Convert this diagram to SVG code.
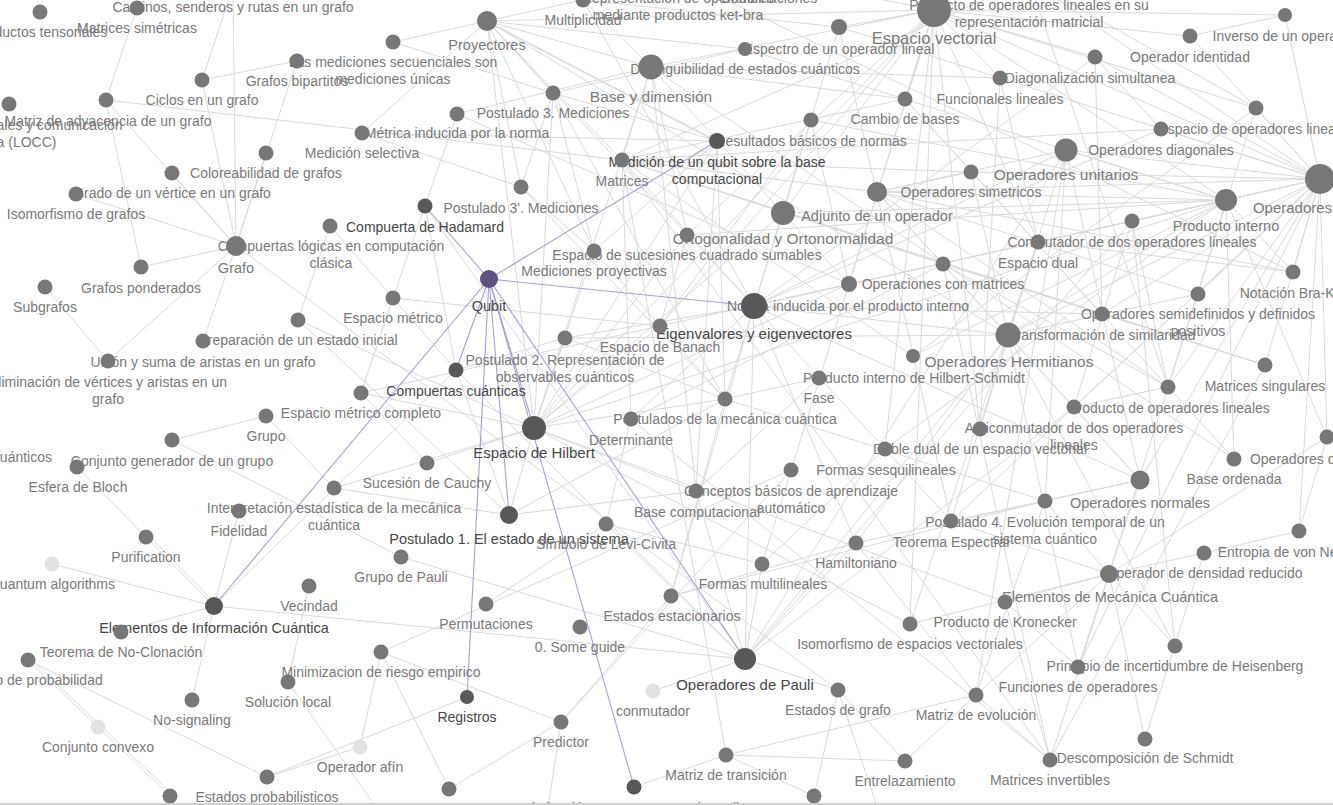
<svg xmlns="http://www.w3.org/2000/svg" width="1333" height="805" viewBox="0 0 1333 805">
<style>
text{font-family:"Liberation Sans",Arial,sans-serif;font-size:14px;fill:#7a7a7a;text-anchor:middle}
.n>circle{fill:#777}
.d>circle{fill:#585858}
.d>text{fill:#474747}
.q>circle{fill:#5e5183}
.q>text{fill:#4a4a4a}
.l>circle{fill:#e2e2e2}
.m>text{font-size:14.5px}
.f>text{font-size:15px}
.L>text{font-size:15.5px}
.X>text{font-size:16.5px}
.e line{stroke:#dadada;stroke-width:1}
.p line{stroke:#a7a0d8;stroke-width:1.1}
</style>
<rect width="1333" height="805" fill="#fff"/>
<g id="connectors">
<g class="e">
<line x1="137" y1="8" x2="106" y2="100"/>
<line x1="106" y1="100" x2="236" y2="246"/>
<line x1="106" y1="100" x2="141" y2="267"/>
<line x1="106" y1="100" x2="622" y2="160"/>
<line x1="202" y1="80" x2="297" y2="61"/>
<line x1="202" y1="80" x2="233" y2="-13"/>
<line x1="202" y1="80" x2="236" y2="246"/>
<line x1="233" y1="-13" x2="236" y2="246"/>
<line x1="297" y1="61" x2="236" y2="246"/>
<line x1="266" y1="153" x2="236" y2="246"/>
<line x1="172" y1="173" x2="236" y2="246"/>
<line x1="76" y1="194" x2="236" y2="246"/>
<line x1="141" y1="267" x2="236" y2="246"/>
<line x1="330" y1="226" x2="298" y2="320"/>
<line x1="236" y1="246" x2="203" y2="341"/>
<line x1="236" y1="246" x2="108" y2="361"/>
<line x1="45" y1="287" x2="108" y2="361"/>
<line x1="236" y1="246" x2="838" y2="690"/>
<line x1="298" y1="320" x2="534" y2="428"/>
<line x1="298" y1="320" x2="509" y2="515"/>
<line x1="266" y1="416" x2="172" y2="440"/>
<line x1="266" y1="416" x2="334" y2="488"/>
<line x1="172" y1="440" x2="401" y2="557"/>
<line x1="77" y1="467" x2="146" y2="537"/>
<line x1="146" y1="537" x2="214" y2="606"/>
<line x1="148" y1="535" x2="216" y2="604"/>
<line x1="52" y1="564" x2="214" y2="606"/>
<line x1="214" y1="606" x2="121" y2="632"/>
<line x1="214" y1="606" x2="192" y2="700"/>
<line x1="214" y1="606" x2="239" y2="511"/>
<line x1="214" y1="606" x2="745" y2="659"/>
<line x1="214" y1="606" x2="456" y2="370"/>
<line x1="309" y1="586" x2="288" y2="682"/>
<line x1="28" y1="660" x2="170" y2="796"/>
<line x1="30" y1="658" x2="172" y2="794"/>
<line x1="28" y1="660" x2="267" y2="777"/>
<line x1="267" y1="777" x2="467" y2="697"/>
<line x1="381" y1="652" x2="561" y2="722"/>
<line x1="381" y1="652" x2="360" y2="747"/>
<line x1="381" y1="652" x2="449" y2="789"/>
<line x1="449" y1="789" x2="561" y2="722"/>
<line x1="561" y1="722" x2="671" y2="596"/>
<line x1="360" y1="747" x2="267" y2="777"/>
<line x1="401" y1="557" x2="745" y2="659"/>
<line x1="486" y1="604" x2="606" y2="524"/>
<line x1="634" y1="787" x2="726" y2="755"/>
<line x1="362" y1="133" x2="487" y2="21"/>
<line x1="362" y1="133" x2="521" y2="187"/>
<line x1="362" y1="133" x2="717" y2="141"/>
<line x1="457" y1="114" x2="393" y2="298"/>
<line x1="457" y1="114" x2="651" y2="67"/>
<line x1="457" y1="114" x2="849" y2="284"/>
<line x1="330" y1="226" x2="456" y2="370"/>
<line x1="393" y1="298" x2="361" y2="393"/>
<line x1="361" y1="393" x2="427" y2="463"/>
<line x1="361" y1="393" x2="660" y2="326"/>
<line x1="427" y1="463" x2="534" y2="428"/>
<line x1="393" y1="298" x2="660" y2="326"/>
<line x1="334" y1="488" x2="509" y2="515"/>
<line x1="334" y1="488" x2="534" y2="428"/>
<line x1="288" y1="682" x2="385" y2="820"/>
<line x1="561" y1="722" x2="547" y2="815"/>
<line x1="838" y1="690" x2="880" y2="815"/>
<line x1="726" y1="755" x2="976" y2="695"/>
<line x1="726" y1="755" x2="814" y2="796"/>
<line x1="726" y1="755" x2="905" y2="761"/>
<line x1="905" y1="761" x2="976" y2="695"/>
<line x1="838" y1="690" x2="814" y2="796"/>
<line x1="745" y1="659" x2="653" y2="691"/>
<line x1="726" y1="755" x2="622" y2="160"/>
<line x1="487" y1="21" x2="553" y2="93"/>
<line x1="487" y1="21" x2="521" y2="187"/>
<line x1="487" y1="21" x2="594" y2="251"/>
<line x1="487" y1="21" x2="717" y2="141"/>
<line x1="489" y1="23" x2="719" y2="143"/>
<line x1="487" y1="21" x2="934" y2="10"/>
<line x1="487" y1="21" x2="754" y2="306"/>
<line x1="487" y1="21" x2="1008" y2="335"/>
<line x1="487" y1="21" x2="651" y2="67"/>
<line x1="487" y1="21" x2="745" y2="49"/>
<line x1="487" y1="21" x2="393" y2="42"/>
<line x1="487" y1="21" x2="583" y2="0"/>
<line x1="487" y1="21" x2="622" y2="160"/>
<line x1="487" y1="21" x2="534" y2="428"/>
<line x1="553" y1="93" x2="521" y2="187"/>
<line x1="553" y1="93" x2="594" y2="251"/>
<line x1="553" y1="93" x2="725" y2="399"/>
<line x1="553" y1="93" x2="393" y2="42"/>
<line x1="553" y1="93" x2="534" y2="428"/>
<line x1="553" y1="93" x2="717" y2="141"/>
<line x1="521" y1="187" x2="594" y2="251"/>
<line x1="521" y1="187" x2="725" y2="399"/>
<line x1="425" y1="206" x2="456" y2="370"/>
<line x1="425" y1="206" x2="745" y2="659"/>
<line x1="717" y1="141" x2="696" y2="491"/>
<line x1="717" y1="141" x2="725" y2="399"/>
<line x1="717" y1="141" x2="594" y2="251"/>
<line x1="594" y1="251" x2="534" y2="428"/>
<line x1="594" y1="251" x2="725" y2="399"/>
<line x1="687" y1="235" x2="534" y2="428"/>
<line x1="687" y1="235" x2="934" y2="10"/>
<line x1="687" y1="235" x2="660" y2="326"/>
<line x1="687" y1="235" x2="1226" y2="200"/>
<line x1="622" y1="160" x2="943" y2="264"/>
<line x1="622" y1="160" x2="631" y2="419"/>
<line x1="622" y1="160" x2="754" y2="306"/>
<line x1="622" y1="160" x2="1265" y2="365"/>
<line x1="622" y1="160" x2="1050" y2="760"/>
<line x1="622" y1="160" x2="1161" y2="129"/>
<line x1="622" y1="160" x2="1029" y2="-20"/>
<line x1="622" y1="160" x2="1102" y2="314"/>
<line x1="651" y1="67" x2="934" y2="10"/>
<line x1="651" y1="67" x2="905" y2="99"/>
<line x1="651" y1="67" x2="622" y2="160"/>
<line x1="651" y1="67" x2="687" y2="235"/>
<line x1="651" y1="67" x2="783" y2="213"/>
<line x1="651" y1="67" x2="534" y2="428"/>
<line x1="651" y1="67" x2="1234" y2="459"/>
<line x1="651" y1="67" x2="696" y2="491"/>
<line x1="651" y1="67" x2="1000" y2="78"/>
<line x1="651" y1="67" x2="583" y2="0"/>
<line x1="745" y1="49" x2="553" y2="93"/>
<line x1="745" y1="49" x2="1226" y2="200"/>
<line x1="839" y1="27" x2="754" y2="306"/>
<line x1="839" y1="27" x2="1320" y2="179"/>
<line x1="839" y1="27" x2="583" y2="0"/>
<line x1="839" y1="27" x2="951" y2="521"/>
<line x1="839" y1="27" x2="934" y2="10"/>
<line x1="934" y1="10" x2="905" y2="99"/>
<line x1="934" y1="10" x2="1000" y2="78"/>
<line x1="934" y1="10" x2="1190" y2="36"/>
<line x1="934" y1="10" x2="1038" y2="242"/>
<line x1="934" y1="10" x2="1226" y2="200"/>
<line x1="934" y1="10" x2="1320" y2="179"/>
<line x1="934" y1="10" x2="1256" y2="108"/>
<line x1="934" y1="10" x2="534" y2="428"/>
<line x1="934" y1="10" x2="660" y2="326"/>
<line x1="934" y1="10" x2="910" y2="624"/>
<line x1="934" y1="10" x2="980" y2="429"/>
<line x1="934" y1="10" x2="762" y2="564"/>
<line x1="934" y1="10" x2="885" y2="449"/>
<line x1="934" y1="10" x2="783" y2="213"/>
<line x1="934" y1="10" x2="849" y2="284"/>
<line x1="934" y1="10" x2="1095" y2="57"/>
<line x1="934" y1="10" x2="1285" y2="15"/>
<line x1="1029" y1="-20" x2="1320" y2="179"/>
<line x1="1029" y1="-20" x2="1168" y2="387"/>
<line x1="1029" y1="-20" x2="1256" y2="108"/>
<line x1="678" y1="-23" x2="1293" y2="272"/>
<line x1="769" y1="-23" x2="934" y2="10"/>
<line x1="905" y1="99" x2="1102" y2="314"/>
<line x1="905" y1="99" x2="1234" y2="459"/>
<line x1="905" y1="99" x2="622" y2="160"/>
<line x1="811" y1="120" x2="849" y2="284"/>
<line x1="811" y1="120" x2="783" y2="213"/>
<line x1="811" y1="120" x2="1226" y2="200"/>
<line x1="811" y1="120" x2="660" y2="326"/>
<line x1="783" y1="213" x2="1226" y2="200"/>
<line x1="783" y1="213" x2="849" y2="284"/>
<line x1="783" y1="213" x2="534" y2="428"/>
<line x1="783" y1="213" x2="754" y2="306"/>
<line x1="877" y1="192" x2="1320" y2="179"/>
<line x1="877" y1="192" x2="1226" y2="200"/>
<line x1="877" y1="192" x2="1008" y2="335"/>
<line x1="877" y1="192" x2="1066" y2="150"/>
<line x1="877" y1="192" x2="1140" y2="480"/>
<line x1="877" y1="192" x2="622" y2="160"/>
<line x1="877" y1="192" x2="1168" y2="387"/>
<line x1="877" y1="192" x2="1198" y2="294"/>
<line x1="877" y1="192" x2="1293" y2="272"/>
<line x1="971" y1="172" x2="1320" y2="179"/>
<line x1="971" y1="172" x2="1008" y2="335"/>
<line x1="971" y1="172" x2="622" y2="160"/>
<line x1="971" y1="172" x2="877" y2="192"/>
<line x1="1066" y1="150" x2="1320" y2="179"/>
<line x1="1066" y1="150" x2="1226" y2="200"/>
<line x1="1066" y1="150" x2="754" y2="306"/>
<line x1="1066" y1="150" x2="745" y2="659"/>
<line x1="1066" y1="150" x2="1140" y2="480"/>
<line x1="1066" y1="150" x2="976" y2="695"/>
<line x1="1066" y1="150" x2="1045" y2="501"/>
<line x1="1066" y1="150" x2="1008" y2="335"/>
<line x1="1161" y1="129" x2="1320" y2="179"/>
<line x1="1161" y1="129" x2="754" y2="306"/>
<line x1="1161" y1="129" x2="1095" y2="57"/>
<line x1="1256" y1="108" x2="1320" y2="179"/>
<line x1="1256" y1="108" x2="913" y2="356"/>
<line x1="1256" y1="108" x2="1168" y2="387"/>
<line x1="1000" y1="78" x2="1038" y2="242"/>
<line x1="1000" y1="78" x2="980" y2="429"/>
<line x1="1095" y1="57" x2="754" y2="306"/>
<line x1="1095" y1="57" x2="1102" y2="314"/>
<line x1="1190" y1="36" x2="1320" y2="179"/>
<line x1="1190" y1="36" x2="1285" y2="15"/>
<line x1="1285" y1="15" x2="1320" y2="179"/>
<line x1="1132" y1="221" x2="1320" y2="179"/>
<line x1="1132" y1="221" x2="1168" y2="387"/>
<line x1="1132" y1="221" x2="745" y2="659"/>
<line x1="1132" y1="221" x2="1074" y2="407"/>
<line x1="1132" y1="221" x2="1175" y2="646"/>
<line x1="1038" y1="242" x2="980" y2="429"/>
<line x1="1038" y1="242" x2="1226" y2="200"/>
<line x1="1038" y1="242" x2="1293" y2="272"/>
<line x1="1226" y1="200" x2="849" y2="284"/>
<line x1="1226" y1="200" x2="534" y2="428"/>
<line x1="1226" y1="200" x2="1293" y2="272"/>
<line x1="1226" y1="200" x2="913" y2="356"/>
<line x1="1226" y1="200" x2="885" y2="449"/>
<line x1="1226" y1="200" x2="1198" y2="294"/>
<line x1="1226" y1="200" x2="1008" y2="335"/>
<line x1="1226" y1="200" x2="1320" y2="179"/>
<line x1="1226" y1="200" x2="1327" y2="437"/>
<line x1="1320" y1="179" x2="1008" y2="335"/>
<line x1="1320" y1="179" x2="1140" y2="480"/>
<line x1="1320" y1="179" x2="1168" y2="387"/>
<line x1="1320" y1="179" x2="1293" y2="272"/>
<line x1="1320" y1="179" x2="1074" y2="407"/>
<line x1="1320" y1="179" x2="1198" y2="294"/>
<line x1="1320" y1="179" x2="1102" y2="314"/>
<line x1="1320" y1="179" x2="1265" y2="365"/>
<line x1="1320" y1="179" x2="1327" y2="437"/>
<line x1="1320" y1="179" x2="754" y2="306"/>
<line x1="1320" y1="179" x2="1095" y2="57"/>
<line x1="1320" y1="179" x2="951" y2="521"/>
<line x1="1320" y1="179" x2="1078" y2="667"/>
<line x1="1320" y1="179" x2="1299" y2="531"/>
<line x1="1198" y1="294" x2="1008" y2="335"/>
<line x1="1198" y1="294" x2="1168" y2="387"/>
<line x1="1102" y1="314" x2="754" y2="306"/>
<line x1="1102" y1="314" x2="1265" y2="365"/>
<line x1="1008" y1="335" x2="754" y2="306"/>
<line x1="1008" y1="335" x2="745" y2="659"/>
<line x1="1008" y1="335" x2="1140" y2="480"/>
<line x1="1008" y1="335" x2="951" y2="521"/>
<line x1="1008" y1="335" x2="565" y2="338"/>
<line x1="1008" y1="335" x2="1175" y2="646"/>
<line x1="1008" y1="335" x2="856" y2="543"/>
<line x1="943" y1="264" x2="1168" y2="387"/>
<line x1="943" y1="264" x2="1265" y2="365"/>
<line x1="943" y1="264" x2="1050" y2="760"/>
<line x1="943" y1="264" x2="631" y2="419"/>
<line x1="849" y1="284" x2="534" y2="428"/>
<line x1="849" y1="284" x2="660" y2="326"/>
<line x1="754" y1="306" x2="951" y2="521"/>
<line x1="754" y1="306" x2="631" y2="419"/>
<line x1="754" y1="306" x2="565" y2="338"/>
<line x1="754" y1="306" x2="856" y2="543"/>
<line x1="754" y1="306" x2="671" y2="596"/>
<line x1="754" y1="306" x2="745" y2="659"/>
<line x1="754" y1="306" x2="1140" y2="480"/>
<line x1="754" y1="306" x2="583" y2="0"/>
<line x1="754" y1="306" x2="725" y2="399"/>
<line x1="660" y1="326" x2="534" y2="428"/>
<line x1="565" y1="338" x2="534" y2="428"/>
<line x1="565" y1="338" x2="725" y2="399"/>
<line x1="565" y1="338" x2="456" y2="370"/>
<line x1="456" y1="370" x2="745" y2="659"/>
<line x1="456" y1="370" x2="509" y2="515"/>
<line x1="534" y1="428" x2="361" y2="393"/>
<line x1="534" y1="428" x2="725" y2="399"/>
<line x1="534" y1="428" x2="696" y2="491"/>
<line x1="534" y1="428" x2="509" y2="515"/>
<line x1="534" y1="428" x2="1005" y2="602"/>
<line x1="534" y1="428" x2="910" y2="624"/>
<line x1="534" y1="428" x2="717" y2="141"/>
<line x1="913" y1="356" x2="622" y2="160"/>
<line x1="819" y1="378" x2="725" y2="399"/>
<line x1="819" y1="378" x2="696" y2="491"/>
<line x1="725" y1="399" x2="509" y2="515"/>
<line x1="725" y1="399" x2="1045" y2="501"/>
<line x1="725" y1="399" x2="671" y2="596"/>
<line x1="631" y1="419" x2="1050" y2="760"/>
<line x1="631" y1="419" x2="606" y2="524"/>
<line x1="1168" y1="387" x2="1074" y2="407"/>
<line x1="1168" y1="387" x2="1050" y2="760"/>
<line x1="1074" y1="407" x2="745" y2="659"/>
<line x1="885" y1="449" x2="762" y2="564"/>
<line x1="791" y1="470" x2="561" y2="722"/>
<line x1="791" y1="470" x2="381" y2="652"/>
<line x1="696" y1="491" x2="509" y2="515"/>
<line x1="696" y1="491" x2="745" y2="659"/>
<line x1="606" y1="524" x2="745" y2="659"/>
<line x1="1265" y1="365" x2="1050" y2="760"/>
<line x1="1327" y1="437" x2="1109" y2="574"/>
<line x1="1327" y1="437" x2="1299" y2="531"/>
<line x1="1234" y1="459" x2="1226" y2="200"/>
<line x1="1140" y1="480" x2="951" y2="521"/>
<line x1="1140" y1="480" x2="1109" y2="574"/>
<line x1="1140" y1="480" x2="1045" y2="501"/>
<line x1="1045" y1="501" x2="856" y2="543"/>
<line x1="1045" y1="501" x2="976" y2="695"/>
<line x1="1045" y1="501" x2="1109" y2="574"/>
<line x1="1045" y1="501" x2="671" y2="596"/>
<line x1="951" y1="521" x2="1109" y2="574"/>
<line x1="856" y1="543" x2="671" y2="596"/>
<line x1="856" y1="543" x2="976" y2="695"/>
<line x1="856" y1="543" x2="745" y2="659"/>
<line x1="762" y1="564" x2="745" y2="659"/>
<line x1="762" y1="564" x2="606" y2="524"/>
<line x1="1299" y1="531" x2="1204" y2="553"/>
<line x1="1204" y1="553" x2="1109" y2="574"/>
<line x1="1204" y1="553" x2="1145" y2="739"/>
<line x1="1109" y1="574" x2="1175" y2="646"/>
<line x1="1109" y1="574" x2="1078" y2="667"/>
<line x1="1109" y1="574" x2="1145" y2="739"/>
<line x1="1109" y1="574" x2="976" y2="695"/>
<line x1="1109" y1="574" x2="1005" y2="602"/>
<line x1="1109" y1="574" x2="910" y2="624"/>
<line x1="1005" y1="602" x2="1050" y2="760"/>
<line x1="1005" y1="602" x2="1078" y2="667"/>
<line x1="910" y1="624" x2="1038" y2="242"/>
<line x1="1078" y1="667" x2="1008" y2="335"/>
<line x1="976" y1="695" x2="1050" y2="760"/>
<line x1="838" y1="690" x2="745" y2="659"/>
<line x1="838" y1="690" x2="905" y2="761"/>
</g>
<g class="p">
<line x1="489" y1="279" x2="425" y2="206"/>
<line x1="489" y1="279" x2="717" y2="141"/>
<line x1="489" y1="279" x2="754" y2="306"/>
<line x1="489" y1="279" x2="456" y2="370"/>
<line x1="489" y1="279" x2="534" y2="428"/>
<line x1="489" y1="279" x2="509" y2="515"/>
<line x1="489" y1="279" x2="214" y2="606"/>
<line x1="489" y1="279" x2="467" y2="697"/>
<line x1="489" y1="279" x2="634" y2="787"/>
<line x1="489" y1="279" x2="745" y2="659"/>
</g>
</g>
<g id="nodes">
<g id="productos-tensoriales" class="n"><circle cx="40" cy="12" r="7.5"/><text x="40" y="37">Productos tensoriales</text></g>
<g id="caminos" class="n"><circle cx="233" cy="-13" r="7.5"/><text x="233" y="12">Caminos, senderos y rutas en un grafo</text></g>
<g id="matrices-simetricas" class="n"><circle cx="137" cy="8" r="7.5"/><text x="137" y="33">Matrices simétricas</text></g>
<g id="ciclos" class="n"><circle cx="202" cy="80" r="7.5"/><text x="202" y="105">Ciclos en un grafo</text></g>
<g id="matriz-adyacencia" class="n"><circle cx="106" cy="100" r="7.5"/><text x="108" y="126">Matriz de adyacencia de un grafo</text></g>
<g id="locc" class="n"><circle cx="9" cy="104" r="7.5"/><text x="9" y="130"><tspan x="9">Operaciones locales y comunicación</tspan><tspan x="9" dy="17">clásica (LOCC)</tspan></text></g>
<g id="grafos-bipartitos" class="n"><circle cx="297" cy="61" r="7.5"/><text x="297" y="86">Grafos bipartitos</text></g>
<g id="mediciones-secuenciales" class="n"><circle cx="393" cy="42" r="7.5"/><text x="393" y="67"><tspan x="393">Las mediciones secuenciales son</tspan><tspan x="393" dy="17">mediciones únicas</tspan></text></g>
<g id="medicion-selectiva" class="n"><circle cx="362" cy="133" r="7.5"/><text x="362" y="158">Medición selectiva</text></g>
<g id="coloreabilidad" class="n"><circle cx="266" cy="153" r="7.5"/><text x="266" y="178">Coloreabilidad de grafos</text></g>
<g id="grado" class="n"><circle cx="172" cy="173" r="7.5"/><text x="172" y="198">Grado de un vértice en un grafo</text></g>
<g id="isomorfismo-grafos" class="n"><circle cx="76" cy="194" r="7.5"/><text x="76" y="219">Isomorfismo de grafos</text></g>
<g id="compuertas-logicas" class="n"><circle cx="330" cy="226" r="7.5"/><text x="331" y="251"><tspan x="331">Compuertas lógicas en computación</tspan><tspan x="331" dy="17">clásica</tspan></text></g>
<g id="grafo" class="n m"><circle cx="236" cy="246" r="10"/><text x="236" y="273">Grafo</text></g>
<g id="grafos-ponderados" class="n"><circle cx="141" cy="267" r="7.5"/><text x="141" y="293">Grafos ponderados</text></g>
<g id="subgrafos" class="n"><circle cx="45" cy="287" r="7.5"/><text x="45" y="312">Subgrafos</text></g>
<g id="preparacion" class="n"><circle cx="298" cy="320" r="7.5"/><text x="298" y="345">Preparación de un estado inicial</text></g>
<g id="union-aristas" class="n"><circle cx="203" cy="341" r="7.5"/><text x="203" y="367">Unión y suma de aristas en un grafo</text></g>
<g id="eliminacion" class="n"><circle cx="108" cy="361" r="7.5"/><text x="108" y="387"><tspan x="108">Eliminación de vértices y aristas en un</tspan><tspan x="108" dy="17">grafo</tspan></text></g>
<g id="espacio-metrico" class="n"><circle cx="393" cy="298" r="7.5"/><text x="393" y="323">Espacio métrico</text></g>
<g id="espacio-metrico-completo" class="n"><circle cx="361" cy="393" r="7.5"/><text x="361" y="418">Espacio métrico completo</text></g>
<g id="grupo" class="n"><circle cx="266" cy="416" r="7.5"/><text x="266" y="441">Grupo</text></g>
<g id="conjunto-generador" class="n"><circle cx="172" cy="440" r="7.5"/><text x="172" y="466">Conjunto generador de un grupo</text></g>
<g id="cuanticos-offscreen"><text x="52" y="462" style="text-anchor:end">cuánticos</text></g>
<g id="esfera-bloch" class="n"><circle cx="77" cy="467" r="7.5"/><text x="78" y="492">Esfera de Bloch</text></g>
<g id="interpretacion" class="n"><circle cx="334" cy="488" r="7.5"/><text x="334" y="513"><tspan x="334">Interpretación estadística de la mecánica</tspan><tspan x="334" dy="17">cuántica</tspan></text></g>
<g id="fidelidad" class="n"><circle cx="239" cy="511" r="7.5"/><text x="239" y="536">Fidelidad</text></g>
<g id="cauchy" class="n"><circle cx="427" cy="463" r="7.5"/><text x="427" y="488">Sucesión de Cauchy</text></g>
<g id="purification" class="n"><circle cx="146" cy="537" r="7.5"/><text x="146" y="562">Purification</text></g>
<g id="quantum-algorithms" class="l"><circle cx="52" cy="564" r="7.5"/><text x="52" y="589">Quantum algorithms</text></g>
<g id="elementos-info" class="d m"><circle cx="214" cy="606" r="9"/><text x="214" y="633">Elementos de Información Cuántica</text></g>
<g id="no-clonacion" class="n"><circle cx="121" cy="632" r="7.5"/><text x="121" y="657">Teorema de No-Clonación</text></g>
<g id="vecindad" class="n"><circle cx="309" cy="586" r="7.5"/><text x="309" y="611">Vecindad</text></g>
<g id="probabilidad" class="n"><circle cx="28" cy="660" r="7.5"/><text x="28" y="685">Espacio de probabilidad</text></g>
<g id="no-signaling" class="n"><circle cx="192" cy="700" r="7.5"/><text x="192" y="725">No-signaling</text></g>
<g id="conjunto-convexo" class="l"><circle cx="98" cy="727" r="7.5"/><text x="98" y="752">Conjunto convexo</text></g>
<g id="solucion-local" class="n"><circle cx="288" cy="682" r="7.5"/><text x="288" y="707">Solución local</text></g>
<g id="minimizacion" class="n"><circle cx="381" cy="652" r="7.5"/><text x="381" y="677">Minimizacion de riesgo empirico</text></g>
<g id="estados-probabilisticos" class="n"><circle cx="267" cy="777" r="7.5"/><text x="267" y="802">Estados probabilisticos</text></g>
<g id="nodo-inferior-1" class="n"><circle cx="170" cy="796" r="7.5"/></g>
<g id="operador-afin" class="l"><circle cx="360" cy="747" r="7.5"/><text x="360" y="772">Operador afín</text></g>
<g id="grupo-pauli" class="n"><circle cx="401" cy="557" r="7.5"/><text x="401" y="582">Grupo de Pauli</text></g>
<g id="postulado-1" class="d m"><circle cx="509" cy="515" r="9"/><text x="509" y="544">Postulado 1. El estado de un sistema</text></g>
<g id="permutaciones" class="n"><circle cx="486" cy="604" r="7.5"/><text x="486" y="629">Permutaciones</text></g>
<g id="some-guide" class="n"><circle cx="580" cy="627" r="7.5"/><text x="580" y="652">0. Some guide</text></g>
<g id="registros" class="d"><circle cx="467" cy="697" r="7"/><text x="467" y="722">Registros</text></g>
<g id="predictor" class="n"><circle cx="561" cy="722" r="7.5"/><text x="561" y="747">Predictor</text></g>
<g id="nodo-inferior-2" class="n"><circle cx="449" cy="789" r="7.5"/></g>
<g id="optimal" class="d"><circle cx="634" cy="787" r="7.5"/><text x="634" y="813">Optimización Quantum Natural Gradient</text></g>
<g id="proyectores" class="n m"><circle cx="487" cy="21" r="10"/><text x="487" y="50">Proyectores</text></g>
<g id="postulado-3" class="n"><circle cx="553" cy="93" r="7.5"/><text x="553" y="118">Postulado 3. Mediciones</text></g>
<g id="base-dimension" class="n L"><circle cx="651" cy="67" r="12.5"/><text x="651" y="102">Base y dimensión</text></g>
<g id="distinguibilidad" class="n"><circle cx="745" cy="49" r="7"/><text x="745" y="74">Distinguibilidad de estados cuánticos</text></g>
<g id="espectro" class="n"><circle cx="839" cy="27" r="8"/><text x="839" y="54">Espectro de un operador lineal</text></g>
<g id="espacio-vectorial" class="n X"><circle cx="934" cy="10" r="17"/><text x="934" y="44">Espacio vectorial</text></g>
<g id="producto-repr-matricial" class="n"><circle cx="1029" cy="-20" r="10"/><text x="1029" y="10"><tspan x="1029">Producto de operadores lineales en su</tspan><tspan x="1029" dy="17">representación matricial</tspan></text></g>
<g id="multiplicidad" class="n"><circle cx="583" cy="0" r="7.5"/><text x="583" y="25">Multiplicidad</text></g>
<g id="representacion-ket-bra" class="n"><circle cx="678" cy="-23" r="7.5"/><text x="678" y="3"><tspan x="678">Representación de operadores</tspan><tspan x="678" dy="17">mediante productos ket-bra</tspan></text></g>
<g id="combinaciones" class="n"><circle cx="769" cy="-23" r="7.5"/><text x="769" y="3">Combinaciones</text></g>
<g id="cambio-bases" class="n"><circle cx="905" cy="99" r="7.5"/><text x="905" y="124">Cambio de bases</text></g>
<g id="resultados-normas" class="n"><circle cx="811" cy="120" r="7.5"/><text x="811" y="146">Resultados básicos de normas</text></g>
<g id="medicion-qubit" class="d"><circle cx="717" cy="141" r="8"/><text x="717" y="167"><tspan x="717">Medición de un qubit sobre la base</tspan><tspan x="717" dy="17">computacional</tspan></text></g>
<g id="matrices" class="n"><circle cx="622" cy="160" r="7.5"/><text x="622" y="186">Matrices</text></g>
<g id="postulado-3p" class="n"><circle cx="521" cy="187" r="7.5"/><text x="521" y="213">Postulado 3'. Mediciones</text></g>
<g id="hadamard" class="d"><circle cx="425" cy="206" r="7.5"/><text x="425" y="232">Compuerta de Hadamard</text></g>
<g id="mediciones-proyectivas" class="n"><circle cx="594" cy="251" r="7.5"/><text x="594" y="276">Mediciones proyectivas</text></g>
<g id="espacio-sucesiones" class="n"><circle cx="687" cy="235" r="7.5"/><text x="687" y="260">Espacio de sucesiones cuadrado sumables</text></g>
<g id="ortogonalidad" class="n L"><circle cx="783" cy="213" r="12"/><text x="783" y="244">Ortogonalidad y Ortonormalidad</text></g>
<g id="adjunto" class="n m"><circle cx="877" cy="192" r="10"/><text x="877" y="221">Adjunto de un operador</text></g>
<g id="operadores-simetricos" class="n"><circle cx="971" cy="172" r="7.5"/><text x="971" y="197">Operadores simetricos</text></g>
<g id="operadores-unitarios" class="n L"><circle cx="1066" cy="150" r="11.5"/><text x="1066" y="180">Operadores unitarios</text></g>
<g id="operadores-diagonales" class="n"><circle cx="1161" cy="129" r="7.5"/><text x="1161" y="155">Operadores diagonales</text></g>
<g id="espacio-operadores" class="n"><circle cx="1256" cy="108" r="7.5"/><text x="1256" y="134">Espacio de operadores lineales</text></g>
<g id="funcionales-lineales" class="n"><circle cx="1000" cy="78" r="7.5"/><text x="1000" y="104">Funcionales lineales</text></g>
<g id="diagonalizacion" class="n"><circle cx="1095" cy="57" r="7.5"/><text x="1090" y="83">Diagonalización simultanea</text></g>
<g id="operador-identidad" class="n"><circle cx="1190" cy="36" r="7.5"/><text x="1190" y="62">Operador identidad</text></g>
<g id="inverso" class="n"><circle cx="1285" cy="15" r="7"/><text x="1285" y="41">Inverso de un operador</text></g>
<g id="conmutador-lineales" class="n"><circle cx="1132" cy="221" r="7.5"/><text x="1132" y="247">Conmutador de dos operadores lineales</text></g>
<g id="espacio-dual" class="n"><circle cx="1038" cy="242" r="7.5"/><text x="1038" y="268">Espacio dual</text></g>
<g id="producto-interno" class="n m"><circle cx="1226" cy="200" r="11"/><text x="1226" y="231">Producto interno</text></g>
<g id="operadores-lineales" class="n f"><circle cx="1320" cy="179" r="15"/><text x="1320" y="213">Operadores lineales</text></g>
<g id="notacion-bra-ket" class="n"><circle cx="1293" cy="272" r="7.5"/><text x="1293" y="298">Notación Bra-Ket</text></g>
<g id="semidefinidos" class="n"><circle cx="1198" cy="294" r="7.5"/><text x="1198" y="319"><tspan x="1198">Operadores semidefinidos y definidos</tspan><tspan x="1198" dy="17">positivos</tspan></text></g>
<g id="transformacion-similaridad" class="n"><circle cx="1102" cy="314" r="7.5"/><text x="1102" y="340">Transformación de similaridad</text></g>
<g id="hermitianos" class="n L"><circle cx="1008" cy="335" r="12.5"/><text x="1009" y="367">Operadores Hermitianos</text></g>
<g id="operaciones-matrices" class="n"><circle cx="943" cy="264" r="7.5"/><text x="943" y="289">Operaciones con matrices</text></g>
<g id="norma-inducida" class="n"><circle cx="849" cy="284" r="8"/><text x="848" y="311">Norma inducida por el producto interno</text></g>
<g id="eigenvalores" class="d f"><circle cx="754" cy="306" r="13"/><text x="754" y="339">Eigenvalores y eigenvectores</text></g>
<g id="espacio-banach" class="n"><circle cx="660" cy="326" r="7.5"/><text x="660" y="352">Espacio de Banach</text></g>
<g id="postulado-2" class="n"><circle cx="565" cy="338" r="7.5"/><text x="565" y="365"><tspan x="565">Postulado 2. Representación de</tspan><tspan x="565" dy="17">observables cuánticos</tspan></text></g>
<g id="compuertas-cuanticas" class="d"><circle cx="456" cy="370" r="7.5"/><text x="456" y="396">Compuertas cuánticas</text></g>
<g id="espacio-hilbert" class="d f"><circle cx="534" cy="428" r="12"/><text x="534" y="458">Espacio de Hilbert</text></g>
<g id="hilbert-schmidt" class="n"><circle cx="913" cy="356" r="7"/><text x="914" y="383">Producto interno de Hilbert-Schmidt</text></g>
<g id="fase" class="n"><circle cx="819" cy="378" r="7.5"/><text x="819" y="403">Fase</text></g>
<g id="postulados" class="n"><circle cx="725" cy="399" r="7.5"/><text x="725" y="424">Postulados de la mecánica cuántica</text></g>
<g id="determinante" class="n"><circle cx="631" cy="419" r="7.5"/><text x="631" y="445">Determinante</text></g>
<g id="producto-operadores" class="n"><circle cx="1168" cy="387" r="7.5"/><text x="1169" y="413">Producto de operadores lineales</text></g>
<g id="anticonmutador" class="n"><circle cx="1074" cy="407" r="7.5"/><text x="1074" y="433"><tspan x="1074">Anticonmutador de dos operadores</tspan><tspan x="1074" dy="17">lineales</tspan></text></g>
<g id="doble-dual" class="n"><circle cx="980" cy="429" r="7.5"/><text x="980" y="454">Doble dual de un espacio vectorial</text></g>
<g id="formas-sesquilineales" class="n"><circle cx="885" cy="449" r="7.5"/><text x="886" y="475">Formas sesquilineales</text></g>
<g id="conceptos-aprendizaje" class="n"><circle cx="791" cy="470" r="7.5"/><text x="791" y="496"><tspan x="791">Conceptos básicos de aprendizaje</tspan><tspan x="791" dy="17">automático</tspan></text></g>
<g id="base-computacional" class="n"><circle cx="696" cy="491" r="7.5"/><text x="697" y="517">Base computacional</text></g>
<g id="levi-civita" class="n"><circle cx="606" cy="524" r="7.5"/><text x="606" y="549">Símbolo de Levi-Civita</text></g>
<g id="matrices-singulares" class="n"><circle cx="1265" cy="365" r="7.5"/><text x="1265" y="391">Matrices singulares</text></g>
<g id="operadores-densidad" class="n"><circle cx="1327" cy="437" r="7.5"/><text x="1327" y="464">Operadores de densidad</text></g>
<g id="base-ordenada" class="n"><circle cx="1234" cy="459" r="7.5"/><text x="1234" y="484">Base ordenada</text></g>
<g id="operadores-normales" class="n m"><circle cx="1140" cy="480" r="9.5"/><text x="1140" y="508">Operadores normales</text></g>
<g id="postulado-4" class="n"><circle cx="1045" cy="501" r="7.5"/><text x="1045" y="527"><tspan x="1045">Postulado 4. Evolución temporal de un</tspan><tspan x="1045" dy="17">sistema cuántico</tspan></text></g>
<g id="teorema-espectral" class="n"><circle cx="951" cy="521" r="7.5"/><text x="951" y="547">Teorema Espectral</text></g>
<g id="hamiltoniano" class="n"><circle cx="856" cy="543" r="7.5"/><text x="856" y="568">Hamiltoniano</text></g>
<g id="formas-multilineales" class="n"><circle cx="762" cy="564" r="7.5"/><text x="763" y="589">Formas multilineales</text></g>
<g id="estados-estacionarios" class="n"><circle cx="671" cy="596" r="7.5"/><text x="672" y="621">Estados estacionarios</text></g>
<g id="entropia" class="n"><circle cx="1299" cy="531" r="7.5"/><text x="1299" y="557">Entropia de von Neumann</text></g>
<g id="densidad-reducido" class="n"><circle cx="1204" cy="553" r="7.5"/><text x="1204" y="578">Operador de densidad reducido</text></g>
<g id="elementos-mecanica" class="n m"><circle cx="1109" cy="574" r="9"/><text x="1110" y="602">Elementos de Mecánica Cuántica</text></g>
<g id="kronecker" class="n"><circle cx="1005" cy="602" r="7.5"/><text x="1005" y="627">Producto de Kronecker</text></g>
<g id="isomorfismo-espacios" class="n"><circle cx="910" cy="624" r="7.5"/><text x="910" y="649">Isomorfismo de espacios vectoriales</text></g>
<g id="heisenberg" class="n"><circle cx="1175" cy="646" r="7.5"/><text x="1175" y="671">Principio de incertidumbre de Heisenberg</text></g>
<g id="funciones-operadores" class="n"><circle cx="1078" cy="667" r="7.5"/><text x="1078" y="692">Funciones de operadores</text></g>
<g id="matriz-evolucion" class="n"><circle cx="976" cy="695" r="7.5"/><text x="976" y="720">Matriz de evolución</text></g>
<g id="estados-grafo" class="n"><circle cx="838" cy="690" r="7.5"/><text x="838" y="715">Estados de grafo</text></g>
<g id="operadores-pauli" class="d f"><circle cx="745" cy="659" r="11"/><text x="745" y="690">Operadores de Pauli</text></g>
<g id="conmutador" class="l"><circle cx="653" cy="691" r="7.5"/><text x="653" y="716">conmutador</text></g>
<g id="matriz-transicion" class="n"><circle cx="726" cy="755" r="7.5"/><text x="726" y="780">Matriz de transición</text></g>
<g id="entrelazamiento" class="n"><circle cx="905" cy="761" r="7.5"/><text x="905" y="786">Entrelazamiento</text></g>
<g id="schmidt" class="n"><circle cx="1145" cy="739" r="7.5"/><text x="1145" y="763">Descomposición de Schmidt</text></g>
<g id="matrices-invertibles" class="n"><circle cx="1050" cy="760" r="7.5"/><text x="1050" y="785">Matrices invertibles</text></g>
<g id="nodo-inferior-3" class="n"><circle cx="814" cy="796" r="7.5"/></g>
<g id="metrica-inducida" class="n"><circle cx="457" cy="114" r="7.5"/><text x="457" y="138">Métrica inducida por la norma</text></g>
<g id="qubit" class="q m"><circle cx="489" cy="279" r="9"/><text x="489" y="311">Qubit</text></g>
</g>
<rect x="0" y="803" width="1333" height="2" fill="#d0d0d0"/>
</svg>
